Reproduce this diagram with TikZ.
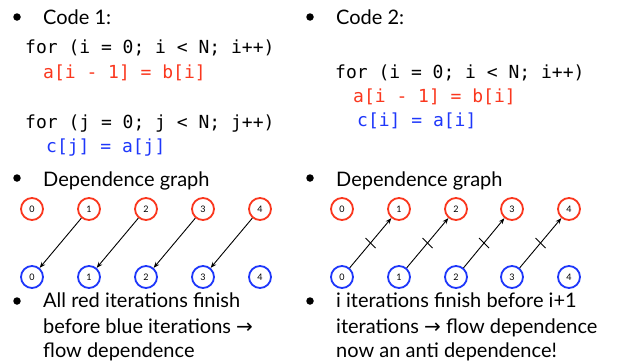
\documentclass[tikz,border=0pt]{standalone}
\usepackage{fontspec}
\setmainfont{Lato}
\setmonofont{DejaVu Sans Mono}
\usetikzlibrary{arrows.meta}
\definecolor{myred}{RGB}{250,55,30}
\definecolor{myblue}{RGB}{30,55,250}
\begin{document}
\begin{tikzpicture}[x=1pt,y=-1pt,
  txt/.style={anchor=base west,inner sep=0pt,font=\fontsize{20}{20}\selectfont},
  code/.style={anchor=base west,inner sep=0pt,font=\fontsize{18}{18}\ttfamily},
  dot/.style={circle,fill=black,inner sep=0pt,minimum size=7.5pt},
  rc/.style={circle,draw=myred,line width=1.8pt,minimum size=22pt,inner sep=0pt,font=\fontsize{9}{9}\selectfont},
  bc/.style={circle,draw=myblue,line width=1.8pt,minimum size=22pt,inner sep=0pt,font=\fontsize{9}{9}\selectfont},
  dep/.style={line width=0.9pt,-{Stealth[length=6pt,width=4.5pt]}},
  crossmark/.style={line width=0.9pt}]
\useasboundingbox (0,0) rectangle (619,364);
% left column
\node[dot] (b1) at (17,17) {};
\node[txt] (c1) at (43,24) {Code 1:};
\node[code] (l1) at (25,53) {for (i = 0; i < N; i++)};
\node[code,text=myred] (l2) at (43,78) {a[i - 1] = b[i]};
\node[code] (l3) at (25,128) {for (j = 0; j < N; j++)};
\node[code,text=myblue] (l4) at (46,152) {c[j] = a[j]};
\node[dot] (b2) at (17,178) {};
\node[txt] (d1) at (43,186) {Dependence graph};
\foreach \i/\x in {0/32,1/89,2/146,3/203,4/260}{
  \node[rc] (Lr\i) at (\x,209) {\i};
  \node[bc] (Lb\i) at (\x,277) {\i};
}
\foreach \i/\j in {1/0,2/1,3/2,4/3}{
  \draw[dep] (Lr\i) -- (Lb\j);
}
\node[dot] (b3) at (17,301) {};
\node[txt] (t1) at (43,307) {All red iterations finish};
\node[txt] (t2) at (43,333) {before blue iterations {\fontspec{DejaVu Sans}→}};
\node[txt] (t3) at (43,357) {flow dependence};
% right column
\node[dot] (b4) at (310,17) {};
\node[txt] (c2) at (336,24) {Code 2:};
\node[code] (r1) at (335,78) {for (i = 0; i < N; i++)};
\node[code,text=myred] (r2) at (353,102) {a[i - 1] = b[i]};
\node[code,text=myblue] (r3) at (357,126) {c[i] = a[i]};
\node[dot] (b5) at (310,178) {};
\node[txt] (d2) at (336,186) {Dependence graph};
\foreach \i/\x in {0/342,1/399,2/456,3/512,4/569}{
  \node[rc] (Rr\i) at (\x,209) {\i};
  \node[bc] (Rb\i) at (\x,277) {\i};
}
\foreach \i/\j in {0/1,1/2,2/3,3/4}{
  \draw[dep] (Rb\i) -- (Rr\j);
  \path (Rb\i) -- (Rr\j) coordinate[pos=0.5] (m\i);
  \draw[crossmark] ([shift={(-5,-5)}]m\i) -- ([shift={(5,5)}]m\i);
}
\node[dot] (b6) at (310,301) {};
\node[txt] (s1) at (336,307) {i iterations finish before i+1};
\node[txt] (s2) at (336,333) {iterations {\fontspec{DejaVu Sans}→} flow dependence};
\node[txt] (s3) at (336,357) {now an anti dependence!};
\end{tikzpicture}
\end{document}
